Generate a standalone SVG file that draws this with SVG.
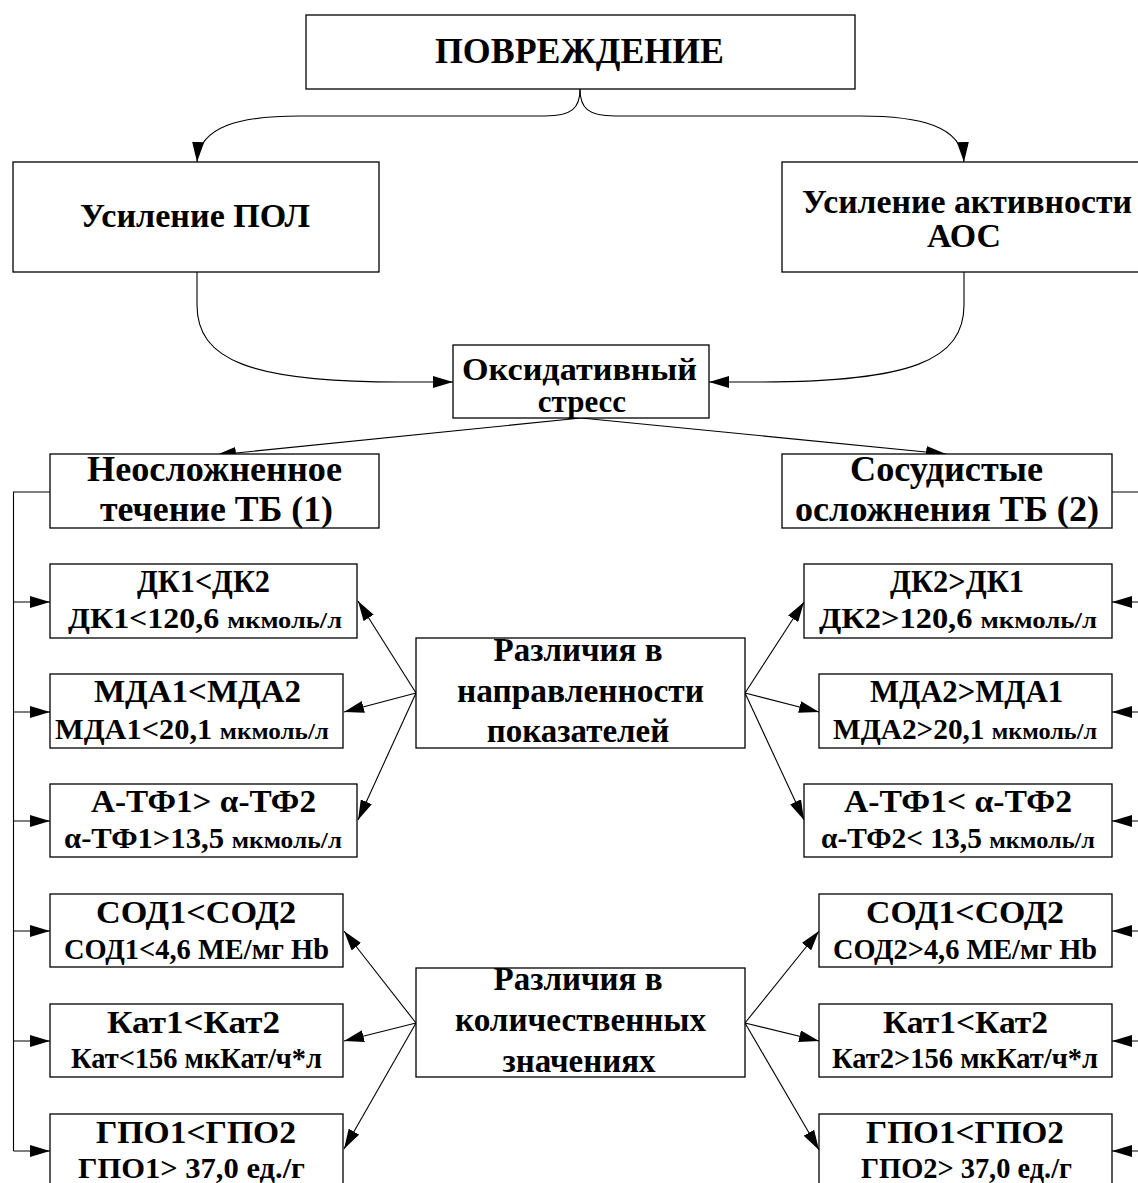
<svg xmlns="http://www.w3.org/2000/svg" width="1138" height="1183" viewBox="0 0 1138 1183">
<style>
  .box { fill: #ffffff; stroke: #000000; stroke-width: 1.3; }
  .t { font-family: "Liberation Serif", "Times New Roman", serif; font-weight: bold; fill: #000000; text-anchor: middle; }
  .xl { font-size: 35px; }
  .l { font-size: 34px; }
  .n { font-size: 35px; }
  .m { font-size: 31px; }
  .r { font-size: 33px; }
  .b1 { font-size: 32px; }
  .b2 { font-size: 29px; }
  .s { font-size: 24px; }
  .c { fill: none; stroke: #000000; stroke-width: 1.1; }
  .a { marker-end: url(#ah); }
</style>
<defs>
  <marker id="ah" markerUnits="userSpaceOnUse" markerWidth="21" markerHeight="12" refX="20" refY="6" orient="auto">
    <path d="M0,0 L20,6 L0,12 Z" fill="#000000"/>
  </marker>
</defs>
<rect x="0" y="0" width="1138" height="1183" fill="#ffffff"/>

<g id="connectors">
  <path class="c a" d="M580,89 C580,108 572,116 545,116 L300,116 C240,116 199,126 197,162"/>
  <path class="c a" d="M580,89 C580,108 588,116 615,116 L860,116 C920,116 962,126 964,162"/>
  <path class="c a" d="M197,272 L197,305 C197,360 250,382 400,382 L453,382"/>
  <path class="c a" d="M964,272 L964,305 C964,360 911,382 760,382 L709,382"/>
  <path class="c a" d="M581,418 L216,455"/>
  <path class="c a" d="M581,418 L946,454"/>
  <path class="c" d="M50,492 H13.5 V1151"/>
  <path class="c a" d="M13.5,602 H50"/>
  <path class="c a" d="M13.5,712 H50"/>
  <path class="c a" d="M13.5,821 H50"/>
  <path class="c a" d="M13.5,931 H50"/>
  <path class="c a" d="M13.5,1041 H50"/>
  <path class="c a" d="M13.5,1151 H50"/>
  <path class="c" d="M1112,492 H1150 V1151"/>
  <path class="c a" d="M1150,602 H1112"/>
  <path class="c a" d="M1150,712 H1112"/>
  <path class="c a" d="M1150,821 H1112"/>
  <path class="c a" d="M1150,931 H1112"/>
  <path class="c a" d="M1150,1041 H1112"/>
  <path class="c a" d="M1150,1151 H1112"/>
  <path class="c a" d="M416,693 L358,601"/>
  <path class="c a" d="M416,693 L344,712"/>
  <path class="c a" d="M416,693 L358,820"/>
  <path class="c a" d="M745,693 L804,602"/>
  <path class="c a" d="M745,693 L819,712"/>
  <path class="c a" d="M745,693 L804,820"/>
  <path class="c a" d="M416,1023 L344,931"/>
  <path class="c a" d="M416,1023 L344,1041"/>
  <path class="c a" d="M416,1023 L344,1149"/>
  <path class="c a" d="M745,1023 L819,931"/>
  <path class="c a" d="M745,1023 L819,1041"/>
  <path class="c a" d="M745,1023 L819,1150"/>
</g>

<g id="n-povrezhdenie">
  <rect class="box" x="306" y="15" width="549" height="74"/>
  <text class="t xl" x="579.5" y="63" textLength="289" lengthAdjust="spacingAndGlyphs">ПОВРЕЖДЕНИЕ</text>
</g>
<g id="n-pol">
  <rect class="box" x="13" y="162" width="366" height="110"/>
  <text class="t l" x="195" y="227" textLength="230" lengthAdjust="spacingAndGlyphs">Усиление ПОЛ</text>
</g>
<g id="n-aos">
  <rect class="box" x="782" y="162" width="370" height="110"/>
  <text class="t l" x="967" y="213" textLength="330" lengthAdjust="spacingAndGlyphs">Усиление активности</text>
  <text class="t l" x="964" y="247" textLength="74" lengthAdjust="spacingAndGlyphs">АОС</text>
</g>
<g id="n-oxid">
  <rect class="box" x="453" y="345" width="256" height="73"/>
  <text class="t m" x="579.5" y="380" textLength="235" lengthAdjust="spacingAndGlyphs">Оксидативный</text>
  <text class="t m" x="582" y="412">стресс</text>
</g>
<g id="n-neo">
  <rect class="box" x="50" y="454" width="329" height="74"/>
  <text class="t n" x="214.5" y="481" textLength="255" lengthAdjust="spacingAndGlyphs">Неосложненное</text>
  <text class="t n" x="216.5" y="521" textLength="233" lengthAdjust="spacingAndGlyphs">течение ТБ (1)</text>
</g>
<g id="n-sos">
  <rect class="box" x="782" y="454" width="330" height="74"/>
  <text class="t n" x="946.5" y="481" textLength="193" lengthAdjust="spacingAndGlyphs">Сосудистые</text>
  <text class="t n" x="947" y="521" textLength="304" lengthAdjust="spacingAndGlyphs">осложнения ТБ (2)</text>
</g>

<g id="n-dk1">
  <rect class="box" x="50" y="564" width="307" height="74"/>
  <text class="t b1" x="203.5" y="592" textLength="133" lengthAdjust="spacingAndGlyphs">ДК1&lt;ДК2</text>
  <text class="t b2" x="205" y="628" textLength="274" lengthAdjust="spacingAndGlyphs">ДК1&lt;120,6 <tspan class="s">мкмоль/л</tspan></text>
</g>
<g id="n-mda1">
  <rect class="box" x="50" y="674" width="293" height="74"/>
  <text class="t b1" x="197.5" y="702" textLength="207" lengthAdjust="spacingAndGlyphs">МДА1&lt;МДА2</text>
  <text class="t b2" x="192" y="739" textLength="274" lengthAdjust="spacingAndGlyphs">МДА1&lt;20,1 <tspan class="s">мкмоль/л</tspan></text>
</g>
<g id="n-atf1">
  <rect class="box" x="50" y="784" width="307" height="73"/>
  <text class="t b1" x="203.5" y="812" textLength="225" lengthAdjust="spacingAndGlyphs">А-ТФ1&gt; α-ТФ2</text>
  <text class="t b2" x="203" y="848" textLength="278" lengthAdjust="spacingAndGlyphs">α-ТФ1&gt;13,5 <tspan class="s">мкмоль/л</tspan></text>
</g>
<g id="n-sod1">
  <rect class="box" x="50" y="894" width="293" height="73"/>
  <text class="t b1" x="196" y="923" textLength="200" lengthAdjust="spacingAndGlyphs">СОД1&lt;СОД2</text>
  <text class="t b2" x="196.5" y="959" textLength="265" lengthAdjust="spacingAndGlyphs">СОД1&lt;4,6 МЕ/мг Hb</text>
</g>
<g id="n-kat1">
  <rect class="box" x="50" y="1004" width="293" height="73"/>
  <text class="t b1" x="193.5" y="1033" textLength="173" lengthAdjust="spacingAndGlyphs">Кат1&lt;Кат2</text>
  <text class="t b2" x="196.5" y="1068" textLength="251" lengthAdjust="spacingAndGlyphs">Кат&lt;156 мкКат/ч*л</text>
</g>
<g id="n-gpo1">
  <rect class="box" x="50" y="1114" width="293" height="74"/>
  <text class="t b1" x="196" y="1143" textLength="200" lengthAdjust="spacingAndGlyphs">ГПО1&lt;ГПО2</text>
  <text class="t b2" x="191.5" y="1178" textLength="227" lengthAdjust="spacingAndGlyphs">ГПО1&gt; 37,0 ед./г</text>
</g>

<g id="n-napr">
  <rect class="box" x="416" y="638" width="329" height="110"/>
  <text class="t r" x="578" y="661">Различия в</text>
  <text class="t r" x="580.5" y="702" textLength="247" lengthAdjust="spacingAndGlyphs">направленности</text>
  <text class="t r" x="578" y="742">показателей</text>
</g>
<g id="n-kol">
  <rect class="box" x="416" y="968" width="329" height="109"/>
  <text class="t r" x="578" y="990">Различия в</text>
  <text class="t r" x="580.5" y="1031" textLength="251" lengthAdjust="spacingAndGlyphs">количественных</text>
  <text class="t r" x="579" y="1072">значениях</text>
</g>

<g id="n-dk2">
  <rect class="box" x="804" y="564" width="308" height="74"/>
  <text class="t b1" x="957" y="592" textLength="134" lengthAdjust="spacingAndGlyphs">ДК2&gt;ДК1</text>
  <text class="t b2" x="958" y="628" textLength="278" lengthAdjust="spacingAndGlyphs">ДК2&gt;120,6 <tspan class="s">мкмоль/л</tspan></text>
</g>
<g id="n-mda2">
  <rect class="box" x="819" y="674" width="293" height="74"/>
  <text class="t b1" x="966.5" y="702" textLength="193" lengthAdjust="spacingAndGlyphs">МДА2&gt;МДА1</text>
  <text class="t b2" x="965" y="739" textLength="264" lengthAdjust="spacingAndGlyphs">МДА2&gt;20,1 <tspan class="s">мкмоль/л</tspan></text>
</g>
<g id="n-atf2">
  <rect class="box" x="804" y="784" width="308" height="73"/>
  <text class="t b1" x="958" y="812" textLength="228" lengthAdjust="spacingAndGlyphs">А-ТФ1&lt; α-ТФ2</text>
  <text class="t b2" x="958" y="848" textLength="274" lengthAdjust="spacingAndGlyphs">α-ТФ2&lt; 13,5 <tspan class="s">мкмоль/л</tspan></text>
</g>
<g id="n-sod2">
  <rect class="box" x="819" y="894" width="293" height="73"/>
  <text class="t b1" x="965" y="923" textLength="198" lengthAdjust="spacingAndGlyphs">СОД1&lt;СОД2</text>
  <text class="t b2" x="965" y="959" textLength="264" lengthAdjust="spacingAndGlyphs">СОД2&gt;4,6 МЕ/мг Hb</text>
</g>
<g id="n-kat2">
  <rect class="box" x="819" y="1004" width="293" height="73"/>
  <text class="t b1" x="965.5" y="1033" textLength="165" lengthAdjust="spacingAndGlyphs">Кат1&lt;Кат2</text>
  <text class="t b2" x="965" y="1068" textLength="266" lengthAdjust="spacingAndGlyphs">Кат2&gt;156 мкКат/ч*л</text>
</g>
<g id="n-gpo2">
  <rect class="box" x="819" y="1114" width="293" height="74"/>
  <text class="t b1" x="965" y="1143" textLength="198" lengthAdjust="spacingAndGlyphs">ГПО1&lt;ГПО2</text>
  <text class="t b2" x="966.5" y="1178" textLength="211" lengthAdjust="spacingAndGlyphs">ГПО2&gt; 37,0 ед./г</text>
</g>
</svg>
